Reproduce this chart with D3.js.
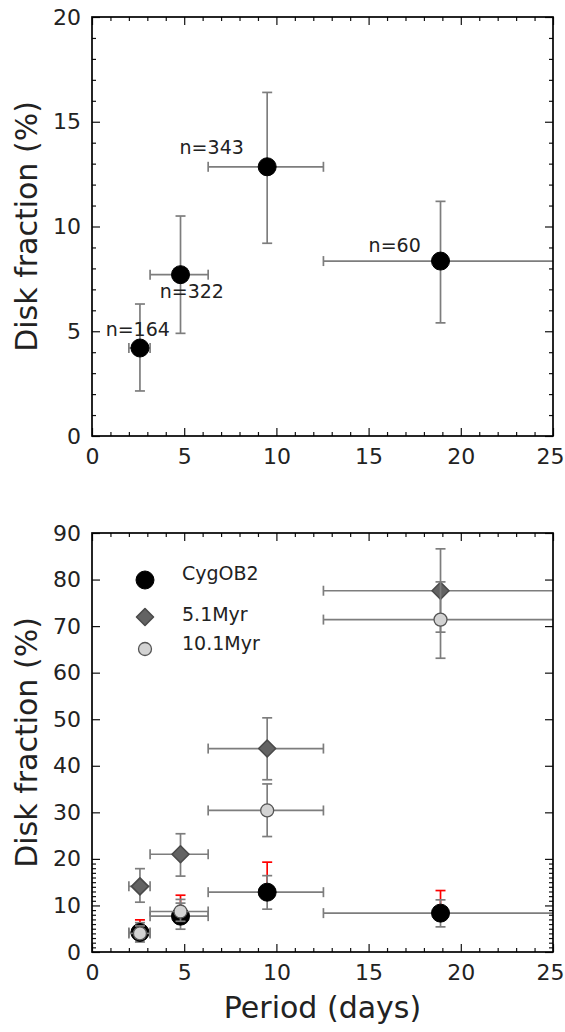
<!DOCTYPE html>
<html>
<head>
<meta charset="utf-8">
<script src="https://cdn.jsdelivr.net/npm/d3@7"></script>
<style>
  html, body { margin: 0; padding: 0; background: #fff; }
  svg { display: block; }
  text { font-family: "DejaVu Sans", sans-serif; fill: #222; }
</style>
</head>
<body>
<svg id="chart" width="565" height="1032"></svg>
<script>
// ---------------- data ----------------
const periods      = [2.6, 4.8, 9.5, 18.9];
const binLow       = [2.0, 3.15, 6.3, 12.55];
const binHigh      = [3.15, 6.3, 12.55, 26];

const cygFrac      = [4.2, 7.7, 12.85, 8.35];
const cygErrLow    = [2.15, 4.9, 9.2, 5.4];
const cygErrHigh   = [6.3, 10.5, 16.4, 11.2];
const cygRedHigh   = [6.9, 12.2, 19.3, 13.2];

const myr5Frac     = [14.1, 21.0, 43.7, 77.6];
const myr5Low      = [10.7, 16.3, 37.0, 68.7];
const myr5High     = [17.9, 25.4, 50.3, 86.6];

const myr10Frac    = [4.0, 8.7, 30.4, 71.4];
const myr10Low     = [3.0, 6.6, 24.8, 63.1];
const myr10High    = [5.6, 11.3, 36.1, 79.5];

const sampleLabels = ["n=164", "n=322", "n=343", "n=60"];
const sampleLabelX = [0.74, 3.67, 4.75, 15.0];
const sampleLabelY = [4.77, 6.61, 13.45, 8.79];

const seriesNames  = ["CygOB2", "5.1Myr", "10.1Myr"];

const xTicks       = [0, 5, 10, 15, 20, 25];
const xMinorTicks  = d3.range(0, 26).filter(v => v % 5 !== 0);
const topYTicks    = [0, 5, 10, 15, 20];
const topYMinor    = d3.range(0, 21).filter(v => v % 5 !== 0);
const botYTicks    = [0, 10, 20, 30, 40, 50, 60, 70, 80, 90];
const botYMinor    = d3.range(0, 21).filter(v => v % 10 !== 0);

const yLabel = "Disk fraction (%)";
const xLabel = "Period (days)";

// ---------------- layout ----------------
const svg = d3.select("#chart");
const X0 = 92, X1 = 553;
const panels = [
  {y0: 17, y1: 436, domain: [0, 20], ticks: topYTicks, minor: topYMinor, id: "top"},
  {y0: 533, y1: 952, domain: [0, 90], ticks: botYTicks, minor: botYMinor, id: "bot"}
];
const x = d3.scaleLinear().domain([0, 25]).range([X0, X1]);

const ERR = "#7d7d7d", ERRW = 1.7, CAP = 5;

function drawAxes(p, y) {
  const g = svg.append("g");
  const fs = "22px";
  // bottom
  const ab = g.append("g").attr("transform", `translate(0,${p.y1})`)
    .call(d3.axisBottom(x).tickValues(xTicks).tickSize(-8).tickPadding(12).tickFormat(d3.format("d")));
  ab.selectAll(".tick text").filter(d => d === 25).attr("dx", -3);
  g.append("g").attr("transform", `translate(0,${p.y1})`)
    .call(d3.axisBottom(x).tickValues(xMinorTicks).tickSize(-4).tickFormat(""));
  // top
  g.append("g").attr("transform", `translate(0,${p.y0})`)
    .call(d3.axisTop(x).tickValues(xTicks).tickSize(-8).tickFormat(""));
  g.append("g").attr("transform", `translate(0,${p.y0})`)
    .call(d3.axisTop(x).tickValues(xMinorTicks).tickSize(-4).tickFormat(""));
  // left
  g.append("g").attr("transform", `translate(${X0},0)`)
    .call(d3.axisLeft(y).tickValues(p.ticks).tickSize(-8).tickPadding(11).tickFormat(d3.format("d")));
  g.append("g").attr("transform", `translate(${X0},0)`)
    .call(d3.axisLeft(y).tickValues(p.minor).tickSize(-4).tickFormat(""));
  // right
  g.append("g").attr("transform", `translate(${X1},0)`)
    .call(d3.axisRight(y).tickValues(p.ticks).tickSize(-8).tickFormat(""));
  g.append("g").attr("transform", `translate(${X1},0)`)
    .call(d3.axisRight(y).tickValues(p.minor).tickSize(-4).tickFormat(""));
  g.selectAll(".domain").remove();
  g.selectAll(".tick line").attr("stroke", "#111").attr("stroke-width", 1.2);
  g.selectAll(".tick text").style("font-size", fs).attr("fill", "#222");
  // frame
  svg.append("rect").attr("x", X0).attr("y", p.y0)
    .attr("width", X1 - X0).attr("height", p.y1 - p.y0)
    .attr("fill", "none").attr("stroke", "#000").attr("stroke-width", 1.7);
  // y label
  svg.append("text")
    .attr("transform", `translate(37,${(p.y0 + p.y1) / 2}) rotate(-90)`)
    .attr("text-anchor", "middle").style("font-size", "30px").text(yLabel);
}

function errorBars(g, y, xs, ys, lo, hi, xlo, xhi, color) {
  xs.forEach((xv, i) => {
    const px = x(xv), py = y(ys[i]);
    if (lo && hi) {
      g.append("line").attr("x1", px).attr("x2", px).attr("y1", y(lo[i])).attr("y2", y(hi[i]))
        .attr("stroke", color).attr("stroke-width", ERRW);
      [lo[i], hi[i]].forEach(v => g.append("line")
        .attr("x1", px - CAP).attr("x2", px + CAP).attr("y1", y(v)).attr("y2", y(v))
        .attr("stroke", color).attr("stroke-width", ERRW));
    }
    if (xlo && xhi) {
      g.append("line").attr("x1", x(xlo[i])).attr("x2", x(xhi[i])).attr("y1", py).attr("y2", py)
        .attr("stroke", color).attr("stroke-width", ERRW);
      [xlo[i], xhi[i]].forEach(v => g.append("line")
        .attr("x1", x(v)).attr("x2", x(v)).attr("y1", py - CAP).attr("y2", py + CAP)
        .attr("stroke", color).attr("stroke-width", ERRW));
    }
  });
}

function redUpper(g, y, xs, ys, hi) {
  xs.forEach((xv, i) => {
    const px = x(xv);
    g.append("line").attr("x1", px).attr("x2", px).attr("y1", y(ys[i])).attr("y2", y(hi[i]))
      .attr("stroke", "#ff0000").attr("stroke-width", ERRW);
    g.append("line").attr("x1", px - CAP).attr("x2", px + CAP).attr("y1", y(hi[i])).attr("y2", y(hi[i]))
      .attr("stroke", "#ff0000").attr("stroke-width", ERRW);
  });
}

function marker(g, kind, px, py) {
  if (kind === 0) {
    g.append("circle").attr("cx", px).attr("cy", py).attr("r", 9)
      .attr("fill", "#000").attr("stroke", "#000").attr("stroke-width", 1);
  } else if (kind === 1) {
    const h = 8.5;
    g.append("path").attr("d", `M${px},${py - h}L${px + h},${py}L${px},${py + h}L${px - h},${py}Z`)
      .attr("fill", "#636363").attr("stroke", "#4a4a4a").attr("stroke-width", 1.6)
      .attr("stroke-linejoin", "round");
  } else {
    g.append("circle").attr("cx", px).attr("cy", py).attr("r", 6.5)
      .attr("fill", "#d3d3d3").attr("stroke", "#555").attr("stroke-width", 1.3);
  }
}

// ---------------- top panel ----------------
{
  const p = panels[0];
  const y = d3.scaleLinear().domain(p.domain).range([p.y1, p.y0]);
  svg.append("clipPath").attr("id", "clip-top").append("rect")
    .attr("x", X0).attr("y", p.y0).attr("width", X1 - X0).attr("height", p.y1 - p.y0);
  const g = svg.append("g").attr("clip-path", "url(#clip-top)");
  errorBars(g, y, periods, cygFrac, cygErrLow, cygErrHigh, binLow, binHigh, ERR);
  periods.forEach((v, i) => marker(g, 0, x(v), y(cygFrac[i])));
  sampleLabels.forEach((t, i) => {
    svg.append("text").attr("x", x(sampleLabelX[i])).attr("y", y(sampleLabelY[i]))
      .style("font-size", "19px").text(t);
  });
  drawAxes(p, y);
}

// ---------------- bottom panel ----------------
{
  const p = panels[1];
  const y = d3.scaleLinear().domain(p.domain).range([p.y1, p.y0]);
  svg.append("clipPath").attr("id", "clip-bot").append("rect")
    .attr("x", X0).attr("y", p.y0).attr("width", X1 - X0).attr("height", p.y1 - p.y0);
  const g = svg.append("g").attr("clip-path", "url(#clip-bot)");
  // CygOB2
  redUpper(g, y, periods, cygFrac, cygRedHigh);
  errorBars(g, y, periods, cygFrac, cygErrLow, cygErrHigh, binLow, binHigh, ERR);
  periods.forEach((v, i) => marker(g, 0, x(v), y(cygFrac[i])));
  // 5.1 Myr
  errorBars(g, y, periods, myr5Frac, myr5Low, myr5High, binLow, binHigh, ERR);
  periods.forEach((v, i) => marker(g, 1, x(v), y(myr5Frac[i])));
  // 10.1 Myr
  errorBars(g, y, periods, myr10Frac, myr10Low, myr10High, binLow, binHigh, ERR);
  periods.forEach((v, i) => marker(g, 2, x(v), y(myr10Frac[i])));

  // legend
  const legMarkerY = [580, 617, 649];
  const legTextY = [580, 621, 650];
  seriesNames.forEach((n, i) => {
    marker(svg, i, 145, legMarkerY[i]);
    svg.append("text").attr("x", 182).attr("y", legTextY[i]).style("font-size", "19px").text(n);
  });

  drawAxes(p, y);
  svg.append("text").attr("x", (X0 + X1) / 2).attr("y", 1018)
    .attr("text-anchor", "middle").style("font-size", "30px").text(xLabel);
}
</script>
</body>
</html>
